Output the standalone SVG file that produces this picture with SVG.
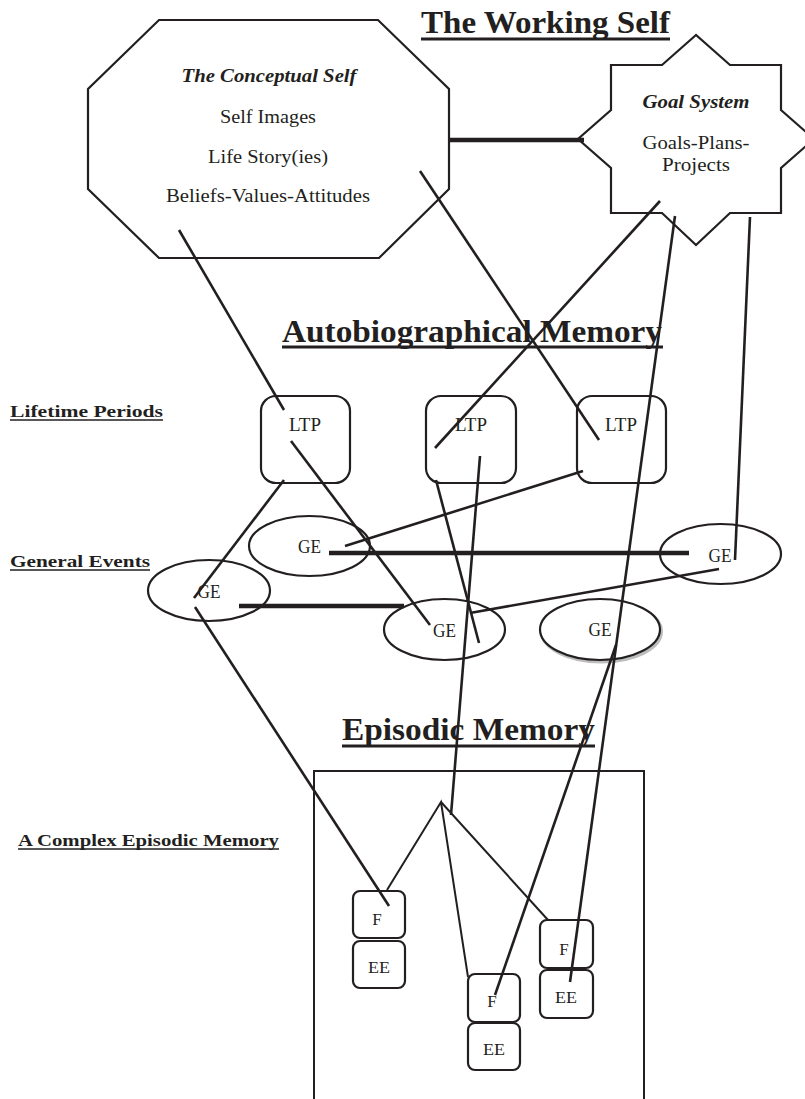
<svg xmlns="http://www.w3.org/2000/svg" width="805" height="1099" viewBox="0 0 805 1099">
<defs>
<style>
.shape{fill:#fff;stroke:#231f20;stroke-width:2.2}
.box{fill:#fff;stroke:#231f20;stroke-width:2.2}
.t{font-family:"Liberation Serif","Times New Roman",serif;fill:#231f20;text-anchor:middle}
.lbl{font-family:"Liberation Serif","Times New Roman",serif;font-weight:bold;fill:#231f20}
.title{font-family:"Liberation Serif","Times New Roman",serif;font-weight:bold;fill:#231f20}
.ul{stroke:#231f20;stroke-width:3.2}
.ul2{stroke:#231f20;stroke-width:1.6}
.c{stroke:#231f20;stroke-width:2.6;fill:none;stroke-linecap:butt}
.ck{stroke:#231f20;stroke-width:4.5;fill:none}
.cs{stroke:#231f20;stroke-width:2;fill:none}
</style>
</defs>
<rect width="805" height="1099" fill="#fff"/>

<!-- Titles -->
<g id="title-working-self">
<text class="title" x="421" y="33" font-size="31" textLength="249" lengthAdjust="spacingAndGlyphs">The Working Self</text>
<line class="ul" x1="421" y1="39" x2="670" y2="39"/>
</g>
<g id="title-autobiographical">
<text class="title" x="282" y="342" font-size="31" textLength="380" lengthAdjust="spacingAndGlyphs">Autobiographical Memory</text>
<line class="ul" x1="282" y1="347" x2="663" y2="347"/>
</g>
<g id="title-episodic">
<text class="title" x="342" y="740" font-size="32" textLength="253" lengthAdjust="spacingAndGlyphs">Episodic Memory</text>
<line class="ul" x1="342" y1="746" x2="595" y2="746"/>
</g>

<!-- Side labels -->
<g id="label-lifetime">
<text class="lbl" x="10" y="417" font-size="17" textLength="153" lengthAdjust="spacingAndGlyphs">Lifetime Periods</text>
<line class="ul2" x1="10" y1="420" x2="163" y2="420"/>
</g>
<g id="label-general">
<text class="lbl" x="10" y="567" font-size="17" textLength="140" lengthAdjust="spacingAndGlyphs">General Events</text>
<line class="ul2" x1="10" y1="570" x2="150" y2="570"/>
</g>
<g id="label-complex">
<text class="lbl" x="18" y="846" font-size="17" textLength="261" lengthAdjust="spacingAndGlyphs">A Complex Episodic Memory</text>
<line class="ul2" x1="18" y1="849" x2="279" y2="849"/>
</g>

<!-- Conceptual self -->
<g id="conceptual-self">
<polygon class="shape" points="159,20 378,20 449,89 449,189 379,258 159,258 88,189 88,89"/>
<text class="t" x="269" y="82" font-size="18.5" font-weight="bold" font-style="italic" textLength="175" lengthAdjust="spacingAndGlyphs">The Conceptual Self</text>
<text class="t" x="268" y="123" font-size="18.5" textLength="96" lengthAdjust="spacingAndGlyphs">Self Images</text>
<text class="t" x="268" y="163" font-size="18.5" textLength="120" lengthAdjust="spacingAndGlyphs">Life Story(ies)</text>
<text class="t" x="268" y="202" font-size="18.5" textLength="204" lengthAdjust="spacingAndGlyphs">Beliefs-Values-Attitudes</text>
</g>

<!-- Goal system -->
<g id="goal-system">
<polygon class="shape" points="696,35 662,65 611,65 611,110 578,139 611,168 611,213 662,213 696,245 730,213 781,213 781,168 814,139 781,110 781,65 730,65"/>
<text class="t" x="696" y="108" font-size="18.5" font-weight="bold" font-style="italic" textLength="107" lengthAdjust="spacingAndGlyphs">Goal System</text>
<text class="t" x="696" y="149" font-size="18.5" textLength="107" lengthAdjust="spacingAndGlyphs">Goals-Plans-</text>
<text class="t" x="696" y="171" font-size="18.5" textLength="68" lengthAdjust="spacingAndGlyphs">Projects</text>
</g>

<!-- LTPs -->
<g id="ltp1">
<rect class="box" x="261" y="396" width="89" height="87" rx="15"/>
<text class="t" x="305" y="431" font-size="18" textLength="32" lengthAdjust="spacingAndGlyphs">LTP</text>
</g>
<g id="ltp2">
<rect class="box" x="426" y="396" width="90" height="87" rx="15"/>
<text class="t" x="471" y="431" font-size="18" textLength="32" lengthAdjust="spacingAndGlyphs">LTP</text>
</g>
<g id="ltp3">
<rect class="box" x="577" y="396" width="89" height="87" rx="15"/>
<text class="t" x="621" y="431" font-size="18" textLength="32" lengthAdjust="spacingAndGlyphs">LTP</text>
</g>

<!-- GEs -->
<g id="ge1">
<ellipse class="shape" cx="309.5" cy="546" rx="60.5" ry="30"/>
<text class="t" x="309.5" y="553" font-size="18" textLength="23" lengthAdjust="spacingAndGlyphs">GE</text>
</g>
<g id="ge-right">
<ellipse class="shape" cx="720.5" cy="554" rx="60.5" ry="30"/>
<text class="t" x="720" y="562" font-size="18" textLength="23" lengthAdjust="spacingAndGlyphs">GE</text>
</g>
<g id="ge-left">
<ellipse class="shape" cx="209" cy="590.5" rx="61" ry="30.5"/>
<text class="t" x="209" y="598" font-size="18" textLength="23" lengthAdjust="spacingAndGlyphs">GE</text>
</g>
<g id="ge-center">
<ellipse class="shape" cx="444.5" cy="629.5" rx="60.5" ry="30.5"/>
<text class="t" x="444.5" y="637" font-size="18" textLength="23" lengthAdjust="spacingAndGlyphs">GE</text>
</g>
<g id="ge-bottom-right">
<ellipse cx="601.5" cy="631.5" rx="60" ry="30.5" fill="none" stroke="#bdbdbd" stroke-width="3"/>
<ellipse class="shape" cx="600" cy="629.5" rx="60" ry="30.5"/>
<text class="t" x="600" y="636" font-size="18" textLength="23" lengthAdjust="spacingAndGlyphs">GE</text>
</g>

<!-- Episodic box -->
<g id="episodic-container">
<rect x="314" y="771" width="330" height="345" fill="none" stroke="#231f20" stroke-width="2"/>
</g>
<g id="f1">
<rect class="box" x="353" y="891" width="52" height="47" rx="7"/>
<text class="t" x="377" y="925" font-size="17">F</text>
</g>
<g id="ee1">
<rect class="box" x="353" y="941" width="52" height="47" rx="7"/>
<text class="t" x="379" y="973" font-size="17" textLength="22" lengthAdjust="spacingAndGlyphs">EE</text>
</g>
<g id="f2">
<rect class="box" x="468" y="974" width="52" height="48" rx="7"/>
<text class="t" x="492" y="1007" font-size="17">F</text>
</g>
<g id="ee2">
<rect class="box" x="468" y="1023" width="52" height="47" rx="7"/>
<text class="t" x="494" y="1055" font-size="17" textLength="22" lengthAdjust="spacingAndGlyphs">EE</text>
</g>
<g id="f3">
<rect class="box" x="540" y="920" width="53" height="48" rx="7"/>
<text class="t" x="564" y="955" font-size="17">F</text>
</g>
<g id="ee3">
<rect class="box" x="540" y="970" width="53" height="48" rx="7"/>
<text class="t" x="566" y="1003" font-size="17" textLength="22" lengthAdjust="spacingAndGlyphs">EE</text>
</g>

<!-- Connectors -->
<g id="connectors">
<line class="ck" x1="449" y1="140" x2="584" y2="140"/>
<line class="c" x1="179" y1="230" x2="284" y2="410"/>
<line class="c" x1="420" y1="171" x2="599" y2="440"/>
<line class="c" x1="660" y1="201" x2="435" y2="448"/>
<line class="c" x1="675" y1="216" x2="570" y2="982"/>
<line class="c" x1="750" y1="217" x2="735" y2="560"/>
<line class="c" x1="291" y1="441" x2="430" y2="625"/>
<line class="c" x1="284" y1="480" x2="194" y2="598"/>
<line class="c" x1="480" y1="456" x2="451" y2="815"/>
<line class="c" x1="436" y1="480" x2="479" y2="643"/>
<line class="c" x1="583" y1="471" x2="345" y2="546"/>
<line class="ck" x1="329" y1="553" x2="689" y2="553"/>
<line class="c" x1="719" y1="569" x2="470" y2="613"/>
<line class="ck" x1="239" y1="606" x2="404" y2="606"/>
<line class="c" x1="195" y1="607" x2="389" y2="906"/>
<line class="c" x1="616" y1="645" x2="495" y2="995"/>
<polyline class="cs" points="387,890 441,802 468,977"/>
<line class="cs" x1="441" y1="802" x2="548" y2="920"/>
</g>
</svg>
